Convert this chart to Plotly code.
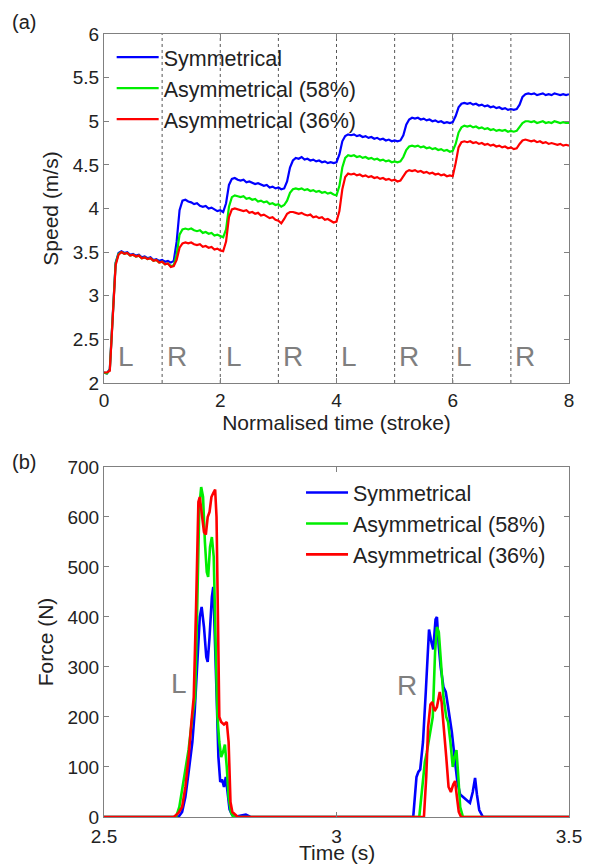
import plotly.graph_objects as go

# ---------------- panel (a): speed vs normalised time ----------------
t_norm = [round(i * 0.05, 2) for i in range(161)]

speed_sym = [
    2.12, 2.11, 2.16, 2.85, 3.38, 3.49, 3.51, 3.49, 3.50, 3.47,
    3.48, 3.46, 3.47, 3.44, 3.45, 3.43, 3.44, 3.41, 3.42, 3.40,
    3.41, 3.39, 3.40, 3.38, 3.40, 3.62, 3.98, 4.09, 4.10, 4.08,
    4.07, 4.05, 4.06, 4.03, 4.02, 4.03, 4.00, 4.01, 3.99, 3.97,
    3.98, 3.96, 4.06, 4.27, 4.34, 4.35, 4.33, 4.32, 4.33, 4.30,
    4.31, 4.29, 4.28, 4.29, 4.27, 4.26, 4.27, 4.24, 4.25, 4.23,
    4.24, 4.22, 4.23, 4.31, 4.47, 4.55, 4.58, 4.57, 4.59, 4.56,
    4.57, 4.55, 4.56, 4.54, 4.55, 4.53, 4.54, 4.52, 4.53, 4.52,
    4.53, 4.62, 4.77, 4.83, 4.85, 4.84, 4.85, 4.83, 4.84, 4.82,
    4.83, 4.81, 4.82, 4.80, 4.81, 4.79, 4.80, 4.78, 4.79, 4.77,
    4.78, 4.77, 4.78, 4.84, 4.96, 5.02, 5.04, 5.03, 5.04, 5.02,
    5.03, 5.01, 5.02, 5.00, 5.01, 4.99, 5.00, 4.98, 4.99, 4.98,
    4.99, 5.06, 5.16, 5.20, 5.21, 5.20, 5.21, 5.19, 5.20, 5.18,
    5.19, 5.17, 5.18, 5.16, 5.17, 5.15, 5.16, 5.14, 5.15, 5.13,
    5.14, 5.13, 5.14, 5.19, 5.28, 5.31, 5.32, 5.31, 5.32, 5.30,
    5.31, 5.32, 5.30, 5.31, 5.30, 5.32, 5.31, 5.30, 5.31, 5.30,
    5.31,
]

speed_asym58 = [
    2.12, 2.11, 2.15, 2.83, 3.37, 3.48, 3.50, 3.48, 3.49, 3.46,
    3.47, 3.45, 3.46, 3.43, 3.44, 3.42, 3.43, 3.40, 3.41, 3.38,
    3.39, 3.36, 3.37, 3.34, 3.35, 3.47, 3.70, 3.76, 3.77, 3.76,
    3.77, 3.75, 3.74, 3.75, 3.72, 3.73, 3.71, 3.72, 3.69, 3.70,
    3.68, 3.67, 3.76, 4.02, 4.13, 4.15, 4.14, 4.13, 4.14, 4.11,
    4.12, 4.10, 4.11, 4.08, 4.09, 4.07, 4.08, 4.05, 4.06, 4.04,
    4.05, 4.02, 4.04, 4.09, 4.18, 4.22, 4.23, 4.22, 4.23, 4.21,
    4.22, 4.20, 4.21, 4.19, 4.20, 4.18, 4.19, 4.17, 4.18, 4.16,
    4.15, 4.26, 4.47, 4.58, 4.61, 4.60, 4.61, 4.59, 4.60, 4.58,
    4.59, 4.57, 4.58, 4.56, 4.57, 4.55, 4.56, 4.54, 4.55, 4.53,
    4.54, 4.53, 4.54, 4.59, 4.67, 4.71, 4.72, 4.71, 4.72, 4.70,
    4.71, 4.69, 4.70, 4.68, 4.69, 4.67, 4.68, 4.66, 4.67, 4.65,
    4.66, 4.74, 4.87, 4.93, 4.95, 4.94, 4.95, 4.93, 4.94, 4.92,
    4.93, 4.91, 4.92, 4.90, 4.91, 4.89, 4.90, 4.89, 4.90, 4.88,
    4.89, 4.88, 4.89, 4.93, 4.98, 5.00, 5.00, 4.99, 5.00, 4.98,
    4.99, 5.00, 4.98, 4.99, 4.98, 5.00, 4.99, 4.98, 4.99, 4.98,
    4.98,
]

speed_asym36 = [
    2.12, 2.12, 2.14, 2.80, 3.35, 3.47, 3.50, 3.48, 3.49, 3.46,
    3.47, 3.45, 3.46, 3.43, 3.44, 3.42, 3.43, 3.40, 3.41, 3.38,
    3.39, 3.36, 3.37, 3.33, 3.34, 3.41, 3.55, 3.60, 3.61, 3.60,
    3.61, 3.59, 3.58, 3.59, 3.56, 3.57, 3.55, 3.56, 3.53, 3.54,
    3.52, 3.51, 3.62, 3.90, 3.99, 4.00, 3.99, 3.98, 3.97, 3.98,
    3.95, 3.96, 3.94, 3.95, 3.92, 3.93, 3.91, 3.89, 3.90, 3.87,
    3.86, 3.83, 3.88, 3.94, 3.96, 3.96, 3.95, 3.94, 3.95, 3.93,
    3.92, 3.93, 3.90, 3.91, 3.89, 3.90, 3.87, 3.88, 3.86, 3.84,
    3.85, 3.97, 4.22, 4.36, 4.40, 4.39, 4.40, 4.38, 4.39, 4.37,
    4.38, 4.36, 4.37, 4.35, 4.36, 4.34, 4.35, 4.33, 4.34, 4.32,
    4.33, 4.31, 4.32, 4.37, 4.42, 4.44, 4.43, 4.44, 4.42, 4.43,
    4.41, 4.42, 4.40, 4.41, 4.39, 4.40, 4.38, 4.39, 4.37, 4.38,
    4.37, 4.52, 4.70, 4.76, 4.77, 4.76, 4.77, 4.75, 4.76, 4.74,
    4.75, 4.73, 4.74, 4.72, 4.73, 4.71, 4.72, 4.70, 4.71, 4.69,
    4.70, 4.68, 4.69, 4.74, 4.78, 4.79, 4.78, 4.77, 4.78, 4.76,
    4.77, 4.75, 4.76, 4.74, 4.75, 4.74, 4.73, 4.74, 4.72, 4.73,
    4.72,
]

stroke_bounds = [1, 2, 3, 4, 5, 6, 7]
side_labels = ["L", "R", "L", "R", "L", "R", "L", "R"]
side_label_x = [0.37, 1.26, 2.23, 3.26, 4.22, 5.25, 6.20, 7.25]
side_label_y = 2.30

# ---------------- panel (b): force vs time ----------------
force_t_sym = [2.50, 2.660, 2.668, 2.675, 2.682, 2.690, 2.695, 2.700, 2.706, 2.710,
               2.715, 2.720, 2.723, 2.727, 2.732, 2.735, 2.738, 2.742, 2.746, 2.750,
               2.754, 2.758, 2.762, 2.766, 2.770, 2.775, 2.780, 2.795, 2.805, 2.815,
               3.165, 3.172, 3.176, 3.180, 3.186, 3.192, 3.199, 3.204, 3.208, 3.213,
               3.216, 3.220, 3.224, 3.230, 3.235, 3.240, 3.248, 3.255, 3.260, 3.266,
               3.272, 3.280, 3.287, 3.293, 3.298, 3.302, 3.307, 3.315, 3.50]
force_sym = [0, 0, 10, 40, 90, 150, 210, 300, 400, 420,
             380, 320, 310, 360, 440, 460, 380, 250, 120, 70,
             75, 60, 80, 40, 15, 5, 0, 3, 5, 0,
             0, 80, 90, 95, 150, 250, 375, 350, 335, 395,
             400, 340, 300, 260, 250, 220, 170, 110, 70, 45,
             40, 34, 28, 50, 78, 45, 14, 0, 0]

force_t_asym58 = [2.50, 2.655, 2.662, 2.670, 2.676, 2.682, 2.690, 2.696, 2.700, 2.705,
                  2.709, 2.713, 2.717, 2.721, 2.724, 2.728, 2.732, 2.736, 2.740, 2.744,
                  2.748, 2.752, 2.756, 2.760, 2.764, 2.768, 2.773, 2.778,
                  3.178, 3.185, 3.190, 3.194, 3.200, 3.207, 3.212, 3.216, 3.220, 3.225,
                  3.230, 3.236, 3.240, 3.245, 3.250, 3.254, 3.258, 3.262, 3.266, 3.272, 3.50]
force_asym58 = [0, 0, 20, 70, 100, 135, 200, 240, 400, 620,
                660, 640, 550, 490, 480, 540, 560, 520, 350, 200,
                150, 120, 130, 145, 100, 40, 10, 0,
                0, 60, 110, 128, 160, 200, 330, 380, 370, 300,
                240, 200, 190, 150, 100, 120, 134, 80, 20, 0, 0]

force_t_asym36 = [2.50, 2.650, 2.660, 2.668, 2.675, 2.682, 2.688, 2.693, 2.698, 2.703,
                  2.706, 2.710, 2.715, 2.719, 2.723, 2.727, 2.731, 2.735, 2.739, 2.742,
                  2.745, 2.748, 2.752, 2.758, 2.764, 2.768, 2.772, 2.776, 2.782, 2.788,
                  3.188, 3.193, 3.197, 3.202, 3.206, 3.211, 3.216, 3.222, 3.226, 3.231,
                  3.236, 3.241, 3.246, 3.251, 3.255, 3.259, 3.263, 3.268, 3.50]
force_asym36 = [0, 0, 8, 20, 60, 120, 190, 240, 420, 630,
                640, 610, 570, 565, 600, 610, 640, 648, 655, 600,
                400, 200, 190, 185, 190, 150, 30, 10, 5, 0,
                0, 80, 180, 225, 230, 212, 220, 250, 230, 180,
                120, 60, 50, 65, 72, 40, 10, 0, 0]

force_labels = ["L", "R"]
force_label_x = [2.661, 3.152]
force_label_y = [266, 262]

series_names = ["Symmetrical", "Asymmetrical (58%)", "Asymmetrical (36%)"]
series_colors = ["#0000ff", "#00ee00", "#ff0000"]

FONT = "Arial, Liberation Sans, sans-serif"

fig = go.Figure()

top_vals = [speed_sym, speed_asym58, speed_asym36]
for name, col, vals in zip(series_names, series_colors, top_vals):
    fig.add_trace(go.Scatter(x=t_norm, y=vals, mode="lines", name=name,
                             line=dict(color=col, width=2.2),
                             xaxis="x", yaxis="y", legend="legend"))

bot = [(force_t_sym, force_sym), (force_t_asym58, force_asym58), (force_t_asym36, force_asym36)]
for name, col, (tx, fy) in zip(series_names, series_colors, bot):
    fig.add_trace(go.Scatter(x=tx, y=fy, mode="lines", name=name,
                             line=dict(color=col, width=2.6),
                             xaxis="x2", yaxis="y2", legend="legend2"))

# dotted stroke boundaries
for b in stroke_bounds:
    fig.add_shape(type="line", xref="x", yref="y domain", x0=b, x1=b, y0=0, y1=1,
                  line=dict(color="#555555", width=1, dash="dot"), layer="below")

for lab, lx in zip(side_labels, side_label_x):
    fig.add_annotation(x=lx, y=side_label_y, xref="x", yref="y", text=lab,
                       showarrow=False, font=dict(size=28, color="#7f7f7f", family=FONT))
for lab, lx, ly in zip(force_labels, force_label_x, force_label_y):
    fig.add_annotation(x=lx, y=ly, xref="x2", yref="y2", text=lab,
                       showarrow=False, font=dict(size=28, color="#7f7f7f", family=FONT))

fig.add_annotation(x=-0.202, y=1.0325, xref="paper", yref="paper", text="(a)",
                   showarrow=False, xanchor="left", yanchor="top",
                   font=dict(size=20, color="#222222", family=FONT))
fig.add_annotation(x=-0.202, y=0.453, xref="paper", yref="paper", text="(b)",
                   showarrow=False, xanchor="left", yanchor="middle",
                   font=dict(size=20, color="#222222", family=FONT))
# x-axis title of panel (b)
fig.add_annotation(x=0.5, y=-0.0447, xref="paper", yref="paper", text="Time (s)",
                   showarrow=False, xanchor="center", yanchor="middle",
                   font=dict(size=21, color="#222222", family=FONT))

axis_common = dict(showline=True, linecolor="#808080", linewidth=1.2, mirror="ticks",
                   ticks="inside", ticklen=5, tickcolor="#808080", showgrid=False,
                   zeroline=False, automargin=False,
                   tickfont=dict(size=19, color="#222222", family=FONT))

fig.update_layout(
    width=582, height=858,
    margin=dict(l=96, r=21, t=26, b=49),
    paper_bgcolor="white", plot_bgcolor="white",
    font=dict(family=FONT, color="#222222"),
    showlegend=True,
    xaxis=dict(domain=[0, 1], anchor="y", range=[0, 8], tickvals=[0, 2, 4, 6, 8],
               title=dict(text="Normalised time (stroke)", standoff=2,
                          font=dict(size=21, color="#222222", family=FONT)),
               **axis_common),
    yaxis=dict(domain=[0.5543, 1], anchor="x", range=[2, 6],
               tickvals=[2, 2.5, 3, 3.5, 4, 4.5, 5, 5.5, 6],
               ticktext=["2", "2.5", "3", "3.5", "4", "4.5", "5", "5.5", "6"],
               title=dict(text="Speed (m/s)", standoff=8,
                          font=dict(size=21, color="#222222", family=FONT)),
               **axis_common),
    xaxis2=dict(domain=[0, 1], anchor="y2", range=[2.5, 3.5], tickvals=[2.5, 3, 3.5],
                ticktext=["2.5", "3", "3.5"], ticklabelstandoff=2,
                **axis_common),
    yaxis2=dict(domain=[0, 0.447], anchor="x2", range=[0, 700],
                tickvals=[0, 100, 200, 300, 400, 500, 600, 700],
                title=dict(text="Force (N)", standoff=8,
                           font=dict(size=21, color="#222222", family=FONT)),
                **axis_common),
    legend=dict(x=0.0165, y=0.9965, xref="paper", yref="paper", xanchor="left", yanchor="top",
                bgcolor="rgba(0,0,0,0)", itemwidth=42, tracegroupgap=0,
                font=dict(size=21.5, color="#222222", family=FONT)),
    legend2=dict(x=0.4237, y=0.4406, xref="paper", yref="paper", xanchor="left", yanchor="top",
                 bgcolor="rgba(0,0,0,0)", itemwidth=42, tracegroupgap=0,
                 font=dict(size=21.5, color="#222222", family=FONT)),
)

fig.write_html("out.html")
